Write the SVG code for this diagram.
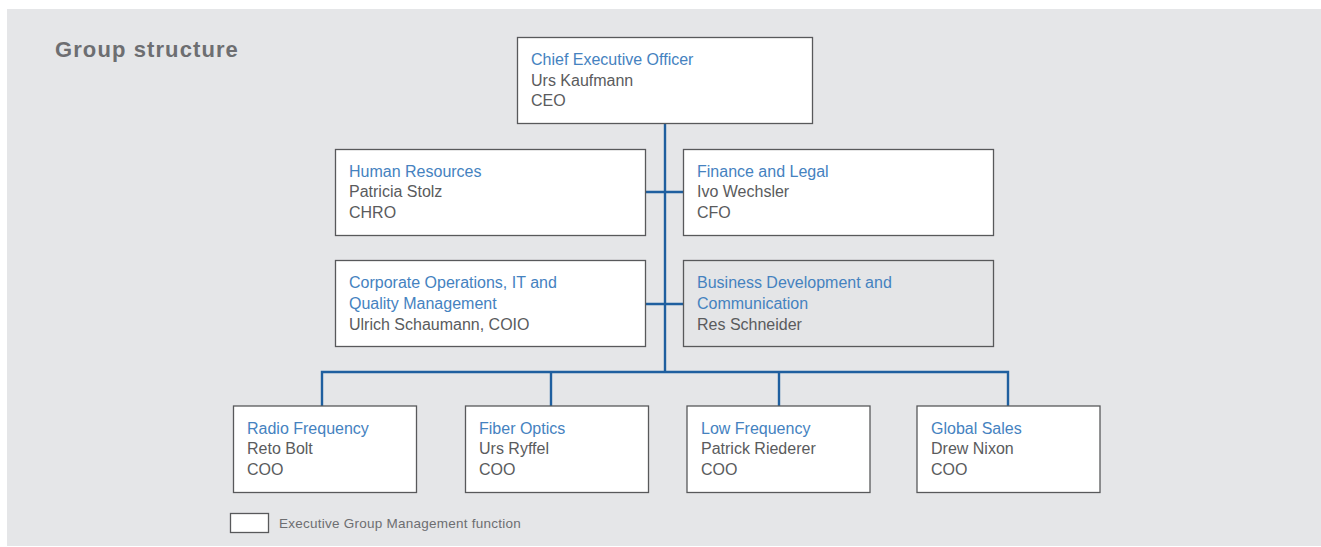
<svg xmlns="http://www.w3.org/2000/svg" width="1321" height="547" viewBox="0 0 1321 547">
<style>
.box{fill:#ffffff;stroke:#58595b;stroke-width:1.3}
.grey{fill:#e4e5e7}
.t{font-family:"Liberation Sans",Arial,sans-serif;font-size:16px;fill:#5a5b5d}
.b{fill:#4582bf}
.con{fill:none;stroke:#1f5f9f;stroke-width:2.4}
.title{font-family:"Liberation Sans",Arial,sans-serif;font-size:22px;font-weight:bold;fill:#6d6e71;letter-spacing:1.1px}
.leg{font-family:"Liberation Sans",Arial,sans-serif;font-size:13.5px;letter-spacing:0.25px;fill:#6d6e71}
</style>
<rect x="0" y="0" width="1321" height="547" fill="#ffffff"/>
<rect x="7" y="9" width="1314" height="537" fill="#e5e6e8"/>
<text class="title" x="55" y="57">Group structure</text>
<g id="connectors">
<path class="con" d="M665 124V372"/>
<path class="con" d="M646 192H683"/>
<path class="con" d="M646 304H683"/>
<path class="con" d="M322 406V372H1008V406"/>
<path class="con" d="M551 372V406"/>
<path class="con" d="M779 372V406"/>
</g>
<g id="ceo">
<rect class="box" x="517.5" y="37.5" width="295" height="86"/>
<text class="t b" x="531" y="65">Chief Executive Officer</text>
<text class="t" x="531" y="86">Urs Kaufmann</text>
<text class="t" x="531" y="106">CEO</text>
</g>
<g id="hr">
<rect class="box" x="335.5" y="149.5" width="310" height="86"/>
<text class="t b" x="349" y="177">Human Resources</text>
<text class="t" x="349" y="197">Patricia Stolz</text>
<text class="t" x="349" y="218">CHRO</text>
</g>
<g id="finance">
<rect class="box" x="683.5" y="149.5" width="310" height="86"/>
<text class="t b" x="697" y="177">Finance and Legal</text>
<text class="t" x="697" y="197">Ivo Wechsler</text>
<text class="t" x="697" y="218">CFO</text>
</g>
<g id="corporate">
<rect class="box" x="335.5" y="260.5" width="310" height="86"/>
<text class="t b" x="349" y="288">Corporate Operations, IT and</text>
<text class="t b" x="349" y="309">Quality Management</text>
<text class="t" x="349" y="330">Ulrich Schaumann, COIO</text>
</g>
<g id="business">
<rect class="box grey" x="683.5" y="260.5" width="310" height="86"/>
<text class="t b" x="697" y="288">Business Development and</text>
<text class="t b" x="697" y="309">Communication</text>
<text class="t" x="697" y="330">Res Schneider</text>
</g>
<g id="radio">
<rect class="box" x="233.5" y="406" width="183" height="86.5"/>
<text class="t b" x="247" y="434">Radio Frequency</text>
<text class="t" x="247" y="454">Reto Bolt</text>
<text class="t" x="247" y="475">COO</text>
</g>
<g id="fiber">
<rect class="box" x="465.5" y="406" width="183" height="86.5"/>
<text class="t b" x="479" y="434">Fiber Optics</text>
<text class="t" x="479" y="454">Urs Ryffel</text>
<text class="t" x="479" y="475">COO</text>
</g>
<g id="lowfreq">
<rect class="box" x="687" y="406" width="183" height="86.5"/>
<text class="t b" x="701" y="434">Low Frequency</text>
<text class="t" x="701" y="454">Patrick Riederer</text>
<text class="t" x="701" y="475">COO</text>
</g>
<g id="sales">
<rect class="box" x="917" y="406" width="183" height="86.5"/>
<text class="t b" x="931" y="434">Global Sales</text>
<text class="t" x="931" y="454">Drew Nixon</text>
<text class="t" x="931" y="475">COO</text>
</g>
<g id="legend">
<rect class="box" x="230.5" y="513.5" width="38" height="19"/>
<text class="leg" x="279" y="528">Executive Group Management function</text>
</g>
</svg>
